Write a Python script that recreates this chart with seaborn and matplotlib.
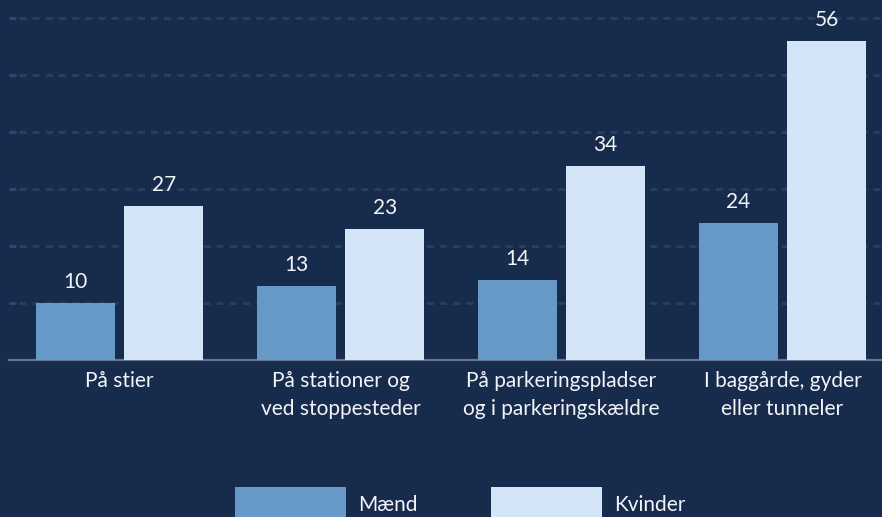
import pandas as pd
import matplotlib
matplotlib.use('Agg')
import matplotlib.pyplot as plt
import seaborn as sns

# Data
categories = ["På stier", "På stationer og\nved stoppesteder",
              "På parkeringspladser\nog i parkeringskældre",
              "I baggårde, gyder\neller tunneler"]
maend = [10, 13, 14, 24]
kvinder = [27, 23, 34, 56]
series_names = ["Mænd", "Kvinder"]

BG = "#172b4c"
COLORS = ["#6699c8", "#d4e5f7"]
TEXT = "#f2f4f8"
FS = 15

df = pd.DataFrame({
    "Sted": categories * 2,
    "Køn": [series_names[0]] * len(categories) + [series_names[1]] * len(categories),
    "Andel": maend + kvinder,
})

sns.set_theme(style="white")
plt.rcParams['font.family'] = ['Lato', 'DejaVu Sans']

fig = plt.figure(figsize=(8.82, 5.17), dpi=100, facecolor=BG)
ax = fig.add_axes([9 / 882, (517 - 360) / 517, 884 / 882, 350 / 517])
ax.set_facecolor(BG)

sns.barplot(data=df, x="Sted", y="Andel", hue="Køn", order=categories,
            hue_order=series_names, palette=COLORS, width=0.8, gap=0.1,
            saturation=1, linewidth=0, edgecolor="none", legend=True, ax=ax, zorder=3)

for cont in ax.containers:
    ax.bar_label(cont, padding=8, color=TEXT, fontsize=FS)

ax.set_ylim(0, 61.4)
ax.set_yticks([10, 20, 30, 40, 50, 60])
ax.set_yticklabels([])
ax.set_xlim(-0.5, 3.5)
ax.set_xlabel("")
ax.set_ylabel("")

ax.yaxis.grid(True, color="#293d5e", linewidth=2.2, linestyle=(1.0, (2.3, 2.0)))
ax.set_axisbelow(True)
ax.tick_params(axis="y", direction="in", length=5, width=2, color="#2a4a72", left=True)
ax.tick_params(axis="x", length=0, pad=8, labelsize=FS, labelcolor=TEXT)
for lbl in ax.get_xticklabels():
    lbl.set_multialignment("center")
    lbl.set_linespacing(1.47)

for side in ["top", "right", "left"]:
    ax.spines[side].set_visible(False)
ax.spines["bottom"].set_color("#6b7589")
ax.spines["bottom"].set_linewidth(1.6)
ax.spines["bottom"].set_zorder(2)

handles, labels = ax.get_legend_handles_labels()
ax.get_legend().remove()
leg = fig.legend(handles, labels, loc="center left",
                 bbox_to_anchor=(235 / 882, 1 - 504 / 517), ncol=2, frameon=False,
                 handlelength=5.33, handleheight=2.13, handletextpad=0.6,
                 columnspacing=3.5, borderpad=0, borderaxespad=0, fontsize=FS)
for t in leg.get_texts():
    t.set_color(TEXT)

fig.savefig("out.png", dpi=100, facecolor=BG)
